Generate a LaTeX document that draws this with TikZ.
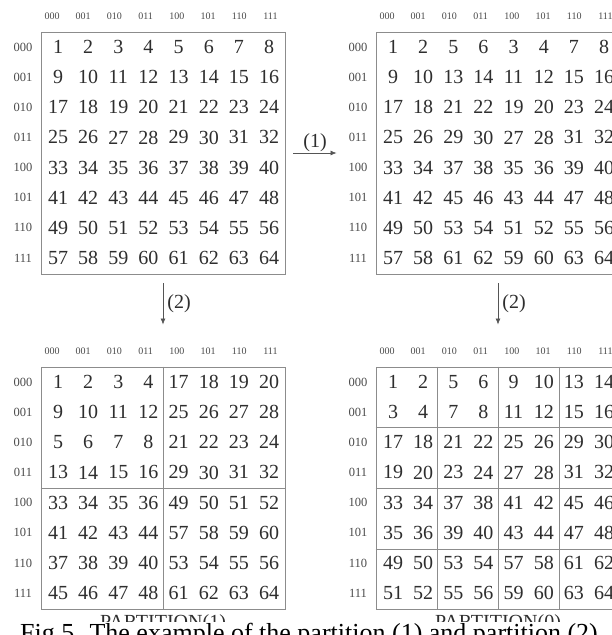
\documentclass[tikz,border=0pt]{standalone}
\usepackage{fontspec}
\setmainfont{Liberation Serif}
\usetikzlibrary{arrows.meta}
\definecolor{ink}{HTML}{2E2E2E}
\definecolor{hdrgray}{HTML}{4A4A4A}
\definecolor{framegray}{HTML}{8C8C8C}
\definecolor{arrowgray}{HTML}{555555}
\newcommand\matcells[4]{%
  \foreach \rowlist [count=\r from 0] in {#4} {
    \foreach \v [count=\c from 0] in \rowlist {
      \node[num] (#1-\r-\c) at ({#2+17+30.15*\c},{#3+15+30.15*\r}) {\v};
    }
  }
  \foreach \h [count=\c from 0] in {000,001,010,011,100,101,110,111} {
    \node[hdr] (#1-h\c) at ({#2+11+31.2*\c},{#3-16}) {\h};
    \node[rlab] (#1-l\c) at ({#2-18},{#3+15+30.15*\c}) {\h};
  }
}
\begin{document}
\begin{tikzpicture}[x=1pt,y=-1pt,
  frame/.style={draw=framegray, line width=0.9pt, minimum width=244pt, minimum height=242pt, inner sep=0pt},
  gridline/.style={draw=framegray, line width=0.8pt},
  num/.style={font=\fontsize{20}{20}\selectfont, text=ink, inner sep=0pt},
  hdr/.style={font=\fontsize{10}{10}\selectfont, text=hdrgray, inner sep=0pt},
  rlab/.style={font=\fontsize{12.5}{12.5}\selectfont, text=hdrgray, inner sep=0pt},
  arr/.style={draw=arrowgray, line width=0.7pt, -{Latex[length=6pt,width=5pt]}},
  alab/.style={font=\fontsize{20}{20}\selectfont, text=ink},
  plab/.style={font=\fontsize{20}{20}\selectfont, text=ink, inner sep=0pt}]
\useasboundingbox (0,0) rectangle (611,635);
\fill[white] (0,0) rectangle (611,635);
% frames
\node[frame] (TL) at (163,153) {};
\node[frame] (TR) at (498,153) {};
\node[frame] (BL) at (163,488) {};
\node[frame] (BR) at (498,488) {};
% partition lines
\draw[gridline] (BL.north) -- (BL.south);
\draw[gridline] (BL.west) -- (BL.east);
\foreach \d in {-61,0,61} {
  \draw[gridline] ([xshift=\d pt]BR.north) -- ([xshift=\d pt]BR.south);
  \draw[gridline] ([yshift=\d pt]BR.west) -- ([yshift=\d pt]BR.east);
}
% cells
\matcells{TL}{41}{32}{{1,2,3,4,5,6,7,8},{9,10,11,12,13,14,15,16},{17,18,19,20,21,22,23,24},{25,26,27,28,29,30,31,32},{33,34,35,36,37,38,39,40},{41,42,43,44,45,46,47,48},{49,50,51,52,53,54,55,56},{57,58,59,60,61,62,63,64}}
\matcells{TR}{376}{32}{{1,2,5,6,3,4,7,8},{9,10,13,14,11,12,15,16},{17,18,21,22,19,20,23,24},{25,26,29,30,27,28,31,32},{33,34,37,38,35,36,39,40},{41,42,45,46,43,44,47,48},{49,50,53,54,51,52,55,56},{57,58,61,62,59,60,63,64}}
\matcells{BL}{41}{367}{{1,2,3,4,17,18,19,20},{9,10,11,12,25,26,27,28},{5,6,7,8,21,22,23,24},{13,14,15,16,29,30,31,32},{33,34,35,36,49,50,51,52},{41,42,43,44,57,58,59,60},{37,38,39,40,53,54,55,56},{45,46,47,48,61,62,63,64}}
\matcells{BR}{376}{367}{{1,2,5,6,9,10,13,14},{3,4,7,8,11,12,15,16},{17,18,21,22,25,26,29,30},{19,20,23,24,27,28,31,32},{33,34,37,38,41,42,45,46},{35,36,39,40,43,44,47,48},{49,50,53,54,57,58,61,62},{51,52,55,56,59,60,63,64}}
% arrows
\draw[arr] ([xshift=8pt]TL.east) -- node[alab, above, inner sep=1pt] {(1)} ([xshift=-39pt]TR.west);
\draw[arr] ([yshift=-9pt]TL.south) -- node[alab, right, inner sep=4pt] {(2)} ([yshift=42pt]BL.north);
\draw[arr] ([yshift=-9pt]TR.south) -- node[alab, right, inner sep=4pt] {(2)} ([yshift=42pt]BR.north);
% partition labels
\node[plab, anchor=base] (P1) at (163,628) {PARTITION(1)};
\node[plab, anchor=base] (P0) at (498,628) {PARTITION(0)};
% caption (cut by the page edge)
\fill[white] (0,622) rectangle (611,645);
\node[anchor=base west, font=\fontsize{26}{26}\selectfont, inner sep=0pt] (cap) at (20,641) {Fig.5. The example of the partition (1) and partition (2)};
\end{tikzpicture}
\end{document}
